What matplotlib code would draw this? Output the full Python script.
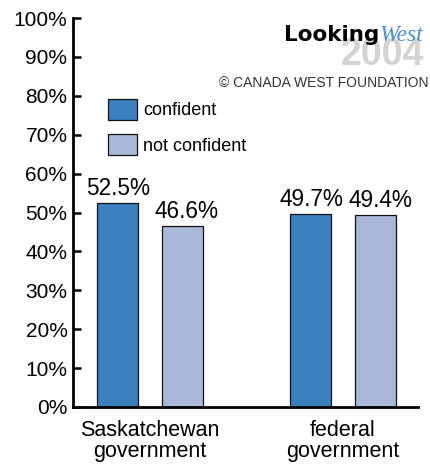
import matplotlib
matplotlib.use("Agg")
import matplotlib.pyplot as plt
import numpy as np

categories = ["Saskatchewan\ngovernment", "federal\ngovernment"]
series_names = ["confident", "not confident"]
confident = [52.5, 49.7]
not_confident = [46.6, 49.4]
value_labels_conf = ["52.5%", "49.7%"]
value_labels_not = ["46.6%", "49.4%"]
yticks = list(range(0, 101, 10))

plt.rcParams['font.family'] = ['Liberation Sans', 'DejaVu Sans']

W, H = 431, 466
fig = plt.figure(figsize=(W / 100, H / 100), dpi=100)
ax = fig.add_axes([73 / W, 1 - 407 / H, (418 - 73) / W, (407 - 18) / H])

x = np.arange(len(categories))
width = 0.212
off = 0.168
c1 = "#3a80bf"
c2 = "#a9b8d8"
b1 = ax.bar(x - off, confident, width, color=c1, edgecolor="#111111", linewidth=0.9, label=series_names[0])
b2 = ax.bar(x + off, not_confident, width, color=c2, edgecolor="#111111", linewidth=0.9, label=series_names[1])

for rect, lab in zip(b1, value_labels_conf):
    ax.annotate(lab, (rect.get_x() + rect.get_width() / 2, rect.get_height()),
                xytext=(0.8, 2), textcoords="offset points", ha="center", va="bottom", fontsize=16.3)
for rect, lab in zip(b2, value_labels_not):
    ax.annotate(lab, (rect.get_x() + rect.get_width() / 2, rect.get_height()),
                xytext=(3.4, 2), textcoords="offset points", ha="center", va="bottom", fontsize=16.3)

ax.set_xlim(-0.397, 1.389)
ax.set_ylim(0, 100)
ax.set_yticks(yticks)
ax.set_yticklabels([f"{t}%" for t in yticks], fontsize=15)
ax.set_xticks(x)
ax.set_xticklabels(categories, fontsize=15.5, linespacing=1.0)
ax.tick_params(axis='y', direction='in', length=6, width=1.8, pad=4)
ax.tick_params(axis='x', length=0, pad=9)
for s in ["top", "right"]:
    ax.spines[s].set_visible(False)
for s in ["left", "bottom"]:
    ax.spines[s].set_linewidth(2)

leg = ax.legend(handles=[b1, b2], loc="upper left", bbox_to_anchor=(108 / W, 1 - 99 / H),
                bbox_transform=fig.transFigure, frameon=False, fontsize=13,
                handlelength=1.6, handleheight=1.4, handletextpad=0.35, labelspacing=0.8,
                borderpad=0, borderaxespad=0)

# Logo
fig.text(424 / W, 1 - 65 / H, "2004", fontsize=27, fontweight="bold", color="#d3d3d3",
         ha="right", va="baseline", zorder=1)
fig.text(379 / W, 1 - 41 / H, "Looking", fontsize=15.5, fontweight="bold", color="black",
         ha="right", va="baseline", family=["DejaVu Sans"], zorder=3)
fig.text(379 / W, 1 - 41 / H, "West", fontsize=17, style="italic", color="#4a90d0",
         ha="left", va="baseline", family=["Liberation Serif"], zorder=3)
fig.text(429 / W, 1 - 87 / H, "© CANADA WEST FOUNDATION", fontsize=10, color="#333333",
         ha="right", va="baseline")

fig.savefig("out.png", dpi=100)
